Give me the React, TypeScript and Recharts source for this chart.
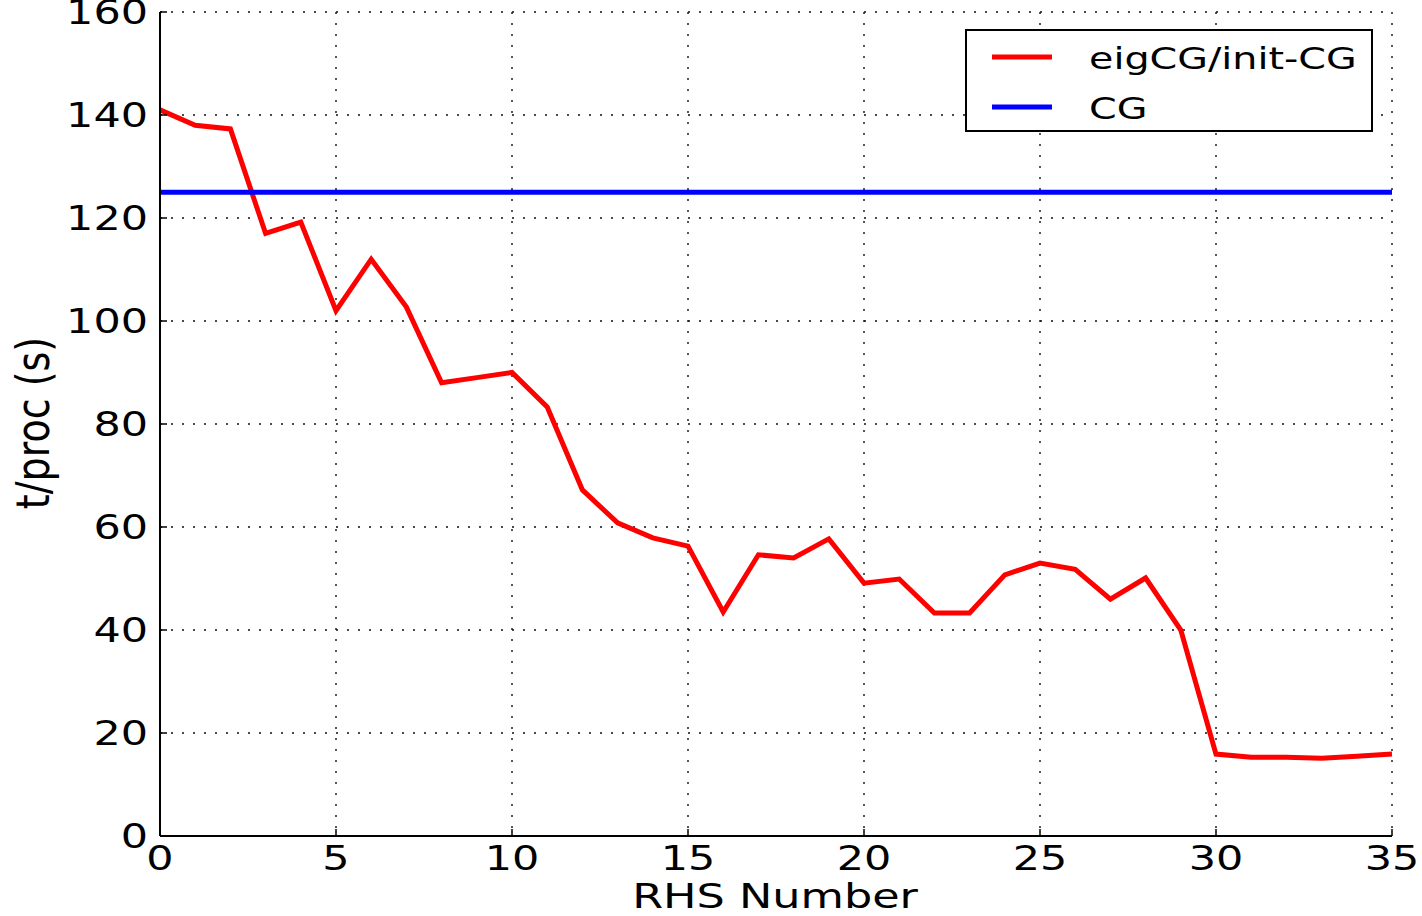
import {
  LineChart, Line, XAxis, YAxis, CartesianGrid, Legend, Label,
} from "recharts";

// RHS index on the x axis
const rhsNumber = [
  0, 1, 2, 3, 4, 5, 6, 7, 8, 9, 10, 11, 12, 13, 14, 15, 16, 17,
  18, 19, 20, 21, 22, 23, 24, 25, 26, 27, 28, 29, 30, 31, 32, 33, 34, 35,
];
// eigCG/init-CG time per proc (s)
const eigcgTime = [
  141, 138, 137.3, 117, 119.2, 102, 112, 102.7, 88, 89, 90, 83.3, 67.2, 60.8, 57.9, 56.3, 43.5, 54.6,
  54, 57.7, 49.1, 49.9, 43.3, 43.3, 50.7, 53, 51.8, 46, 50.1, 40, 15.9, 15.3, 15.3, 15.1, 15.5, 15.9,
];
// plain CG reference time, flat across all RHS
const cgRhs = [0, 35];
const cgTime = [125, 125];

const xTicks = [0, 5, 10, 15, 20, 25, 30, 35];
const yTicks = [0, 20, 40, 60, 80, 100, 120, 140, 160];
const legendOrder = ["eigCG/init-CG", "CG"];

const eigcgData = rhsNumber.map((x, i) => ({ x, t: eigcgTime[i] }));
const cgData = cgRhs.map((x, i) => ({ x, t: cgTime[i] }));

const FONT = "'DejaVu Sans', sans-serif";
const STRETCH = 1.3;

const XTick = ({ x, y, payload }: any) => (
  <g transform={`translate(${x},${y}) scale(${STRETCH},1)`}>
    <text x={0} y={0} dy={27} textAnchor="middle" fontFamily={FONT} fontSize={33} fill="#000">
      {payload.value}
    </text>
  </g>
);

const YTick = ({ x, y, payload }: any) => (
  <g transform={`translate(${x},${y}) scale(${STRETCH},1)`}>
    <text x={0} y={0} dy={12} textAnchor="end" fontFamily={FONT} fontSize={33} fill="#000">
      {payload.value}
    </text>
  </g>
);

const NoTick = () => <g />;

const LegendBox = ({ payload }: any) => {
  const items = legendOrder
    .map((name) => (payload || []).find((p: any) => p.value === name))
    .filter(Boolean);
  return (
    <svg width={410} height={105} style={{ display: "block" }}>
      <rect x={1} y={1} width={406} height={101} fill="#fff" stroke="#000" strokeWidth={2} />
      {items.map((p: any, i: number) => (
        <g key={p.value}>
          <line x1={27} x2={87} y1={28 + i * 50} y2={28 + i * 50} stroke={p.color} strokeWidth={5} />
          <g transform={`translate(124,${40 + i * 50}) scale(${STRETCH},1)`}>
            <text x={0} y={0} fontFamily={FONT} fontSize={30.5} fill="#000">{p.value}</text>
          </g>
        </g>
      ))}
    </svg>
  );
};

export default function App() {
  return (
    <div style={{ position: "absolute", left: 0, top: 0, width: 1422, height: 916, background: "#fff" }}>
      <LineChart width={1422} height={916} margin={{ top: 12, right: 30, bottom: 0, left: 0 }}>
        <CartesianGrid stroke="#111" strokeWidth={1.4} strokeDasharray="2 9" />
        <XAxis
          dataKey="x" type="number" domain={[0, 35]} ticks={xTicks} height={80}
          axisLine={{ stroke: "#000", strokeWidth: 2 }} tickLine={{ stroke: "#000", strokeWidth: 1.5 }}
          tickSize={-7} tickMargin={14} tick={<XTick />} interval={0}
          allowDuplicatedCategory={false}
        >
          <Label
            content={() => (
              <g transform={`translate(775,908) scale(1.35,1)`}>
                <text x={0} y={0} textAnchor="middle" fontFamily={FONT} fontSize={33} fill="#000">
                  RHS Number
                </text>
              </g>
            )}
          />
        </XAxis>
        <XAxis
          xAxisId="top" orientation="top" dataKey="x" type="number" domain={[0, 35]} ticks={xTicks}
          height={0} axisLine={{ stroke: "#000", strokeWidth: 2 }}
          tickLine={{ stroke: "#000", strokeWidth: 1.5 }} tickSize={-7} tick={<NoTick />}
        />
        <YAxis
          type="number" domain={[0, 160]} ticks={yTicks} width={160} interval={0}
          axisLine={{ stroke: "#000", strokeWidth: 2 }} tickLine={{ stroke: "#000", strokeWidth: 1.5 }}
          tickSize={-7} tickMargin={19} tick={<YTick />}
        >
          <Label
            content={() => (
              <g transform={`translate(49,423) scale(1.2,1) rotate(-90)`}>
                <text x={0} y={0} textAnchor="middle" fontFamily={FONT} fontSize={38} fill="#000">
                  t/proc (s)
                </text>
              </g>
            )}
          />
        </YAxis>
        <YAxis
          yAxisId="right" orientation="right" type="number" domain={[0, 160]} ticks={yTicks} width={0}
          axisLine={{ stroke: "#000", strokeWidth: 2 }} tickLine={{ stroke: "#000", strokeWidth: 1.5 }}
          tickSize={-7} tick={<NoTick />}
        />
        <Legend
          layout="vertical" align="center" verticalAlign="middle"
          wrapperStyle={{ position: "absolute", left: 965, top: 29, width: 410, height: 105 }}
          content={<LegendBox />}
        />
        <Line
          data={eigcgData} dataKey="t" name="eigCG/init-CG" stroke="#ff0000" strokeWidth={5}
          dot={false} isAnimationActive={false}
        />
        <Line
          data={cgData} dataKey="t" name="CG" stroke="#0000ff" strokeWidth={5}
          dot={false} isAnimationActive={false}
        />
      </LineChart>
    </div>
  );
}
